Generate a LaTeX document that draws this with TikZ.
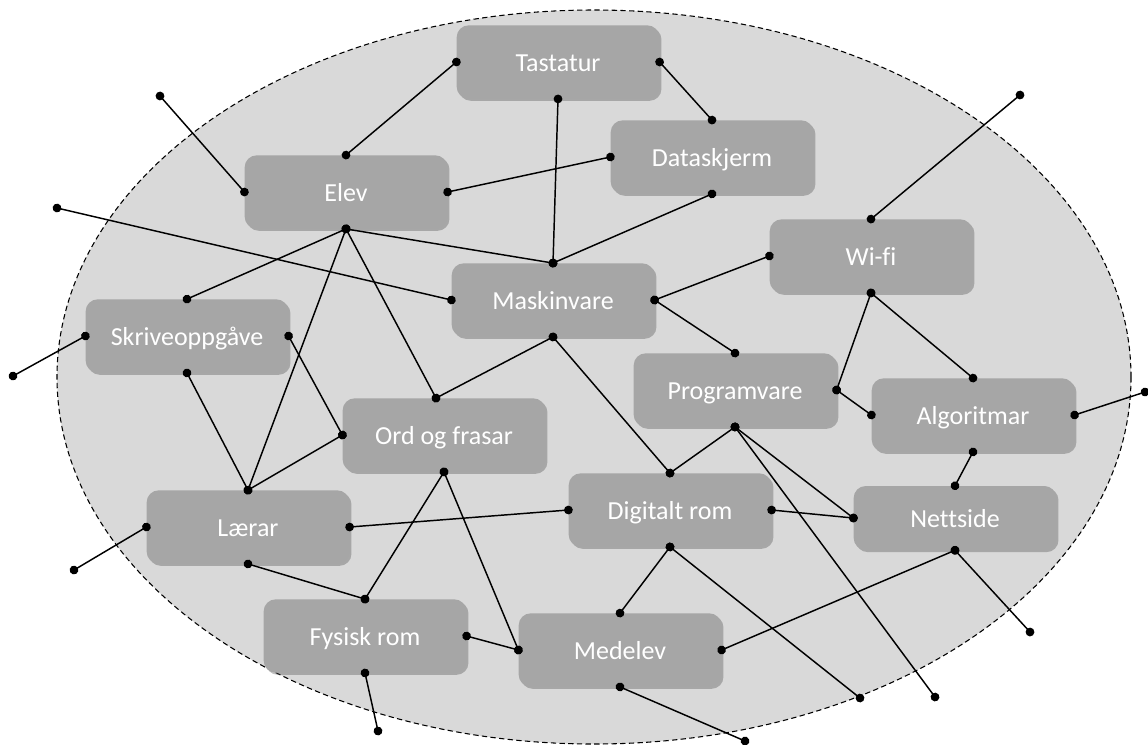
\documentclass[tikz,border=0pt]{standalone}
\usepackage{fontspec}
\setmainfont{Carlito}[Ligatures=CommonOff]
\usetikzlibrary{shadows,arrows.meta}
\definecolor{areafill}{HTML}{D9D9D9}
\definecolor{boxfill}{HTML}{A6A6A6}
\begin{document}
\begin{tikzpicture}[x=0.75pt,y=-0.75pt,
  concept/.style={rectangle, rounded corners=9pt, fill=boxfill,
    minimum width=152pt, minimum height=55pt, inner sep=0pt,
    text height=14pt, text depth=0pt,
    text=white, font=\fontsize{19.5}{23}\selectfont,
    drop shadow={shadow xshift=1.6pt, shadow yshift=-1.6pt, opacity=0.35, fill=black!70}},
  link/.style={line width=1.1pt, {Circle[length=6.5pt]}-{Circle[length=6.5pt]},
    shorten <=-3.25pt, shorten >=-3.25pt},
  area/.style={fill=areafill, draw=black, line width=0.8pt, dash pattern=on 4pt off 2.5pt}]
\useasboundingbox (0,0) rectangle (1148,744);

% shared field
\draw[area] (594,377) ellipse [x radius=402.75pt, y radius=275.25pt];

% concepts
\node[concept] (tast) at (558,62)  {Tastatur};
\node[concept] (skjerm) at (712,157) {Dataskjerm};
\node[concept] (elev) at (346,192) {Elev};
\node[concept] (wifi) at (871,256) {Wi-fi};
\node[concept] (maskin) at (553,300) {Maskinvare};
\node[concept] (skriv) at (187,336) {Skriveoppgåve};
\node[concept] (prog) at (735,390) {Programvare};
\node[concept] (algo) at (973,415) {Algoritmar};
\node[concept] (ord) at (444,435) {Ord og frasar};
\node[concept, minimum height=48pt] (nett) at (955,518) {Nettside};
\node[concept] (digi) at (670,510) {Digitalt rom};
\node[concept] (laerar) at (248,527) {Lærar};
\node[concept] (fysisk) at (365,636) {Fysisk rom};
\node[concept] (medelev) at (620,650) {Medelev};

% attachment point off the box centre
\coordinate (ordtop) at ([xshift=-6pt]ord.north);

% loose ends
\coordinate (e1) at (160,96);
\coordinate (e2) at (57,208);
\coordinate (e3) at (13,376);
\coordinate (e4) at (74,570);
\coordinate (e5) at (378,731);
\coordinate (e6) at (745,741);
\coordinate (e7) at (860,698);
\coordinate (e8) at (935,697);
\coordinate (e9) at (1030,632);
\coordinate (e10) at (1020,95);
\coordinate (e11) at (1145,392);

% connectors
\draw[link] (tast.west) -- (elev.north);
\draw[link] (tast.east) -- (skjerm.north);
\draw[link] (tast.south) -- (maskin.north);
\draw[link] (elev.east) -- (skjerm.west);
\draw[link] (skjerm.south) -- (maskin.north);
\draw[link] (elev.south) -- (maskin.north);
\draw[link] (elev.south) -- (skriv.north);
\draw[link] (elev.south) -- (laerar.north);
\draw[link] (elev.south) -- (ordtop);
\draw[link] (e1) -- (elev.west);
\draw[link] (e2) -- (maskin.west);
\draw[link] (e3) -- (skriv.west);
\draw[link] (e4) -- (laerar.west);
\draw[link] (skriv.east) -- (ord.west);
\draw[link] (skriv.south) -- (laerar.north);
\draw[link] (laerar.north) -- (ord.west);
\draw[link] (maskin.east) -- (wifi.west);
\draw[link] (maskin.east) -- (prog.north);
\draw[link] (maskin.south) -- (ordtop);
\draw[link] (maskin.south) -- (digi.north);
\draw[link] (wifi.north) -- (e10);
\draw[link] (wifi.south) -- (prog.east);
\draw[link] (wifi.south) -- (algo.north);
\draw[link] (prog.east) -- (algo.west);
\draw[link] (algo.east) -- (e11);
\draw[link] (algo.south) -- (nett.north);
\draw[link] (prog.south) -- (digi.north);
\draw[link] (prog.south) -- (nett.west);
\draw[link] (prog.south) -- (e8);
\draw[link] (digi.east) -- (nett.west);
\draw[link] (digi.west) -- (laerar.east);
\draw[link] (digi.south) -- (medelev.north);
\draw[link] (digi.south) -- (e7);
\draw[link] (ord.south) -- (fysisk.north);
\draw[link] (ord.south) -- (medelev.west);
\draw[link] (laerar.south) -- (fysisk.north);
\draw[link] (fysisk.east) -- (medelev.west);
\draw[link] (fysisk.south) -- (e5);
\draw[link] (medelev.east) -- (nett.south);
\draw[link] (medelev.south) -- (e6);
\draw[link] (nett.south) -- (e9);
\end{tikzpicture}
\end{document}
